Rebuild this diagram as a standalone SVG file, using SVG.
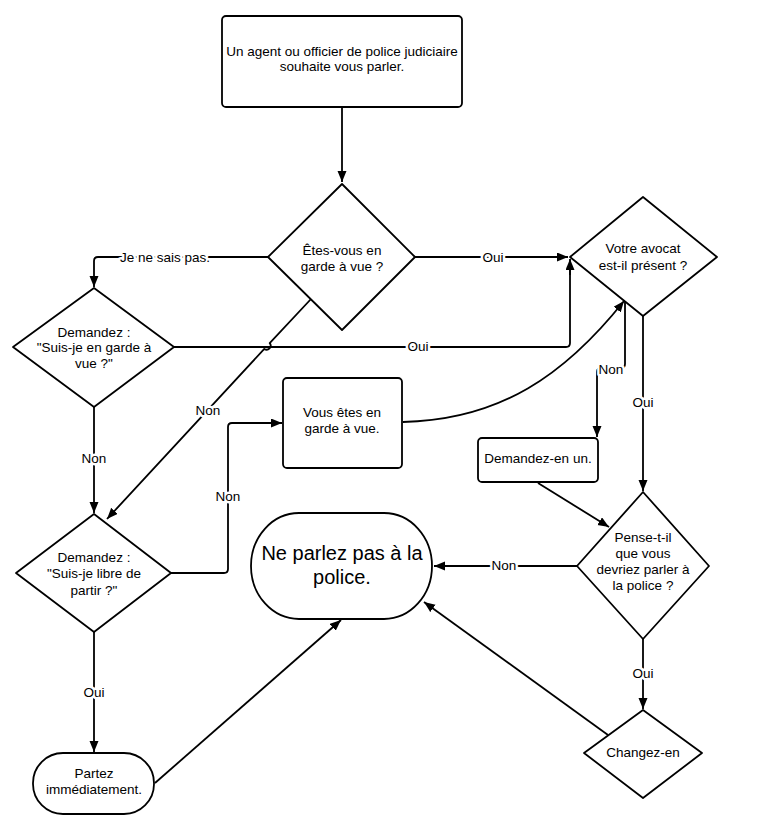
<svg xmlns="http://www.w3.org/2000/svg" width="757" height="829" viewBox="0 0 757 829">
<style>
.n{fill:#fff;stroke:#000;stroke-width:1.8;stroke-linejoin:round}
.t{font-family:"Liberation Sans",Arial,sans-serif;font-size:13.5px;fill:#000;text-anchor:middle}
.big{font-size:20px}
.c{fill:none;stroke:#000;stroke-width:1.8;stroke-linejoin:round}
.a{marker-end:url(#ah)}
.l{font-family:"Liberation Sans",Arial,sans-serif;font-size:13.5px;fill:#000;text-anchor:middle;stroke:#fff;stroke-width:5px;paint-order:stroke;stroke-linejoin:round}
</style>
<defs>
<marker id="ah" markerWidth="12" markerHeight="10" refX="11" refY="4.5" orient="auto" markerUnits="userSpaceOnUse">
<path d="M0,0 L11,4.5 L0,9 z" fill="#000"/>
</marker>
</defs>
<rect width="757" height="829" fill="#fff"/>
<g id="connectors">
<path class="c a" d="M342,107 L342,182"/>
<path class="c a" d="M268,257 L98,257 Q94,257 94,261 L94,287"/>
<path class="c a" d="M415,257 L568,257"/>
<path class="c" d="M174,347 L566,347 Q570,347 570,343 L570,270"/>
<path class="c a" d="M570,275 L570,259"/>
<path class="c a" d="M311,299 L269.7,343.1 A4,4 0 0 1 264.3,348.9 L107,519"/>
<path class="c a" d="M94,407 L94,513"/>
<path class="c a" d="M171,573 L224,573 Q228,573 228,569 L228,427 Q228,423 232,423 L282,423"/>
<path class="c a" d="M403,422 C500,420 565,375 624,301"/>
<path class="c a" d="M625,302 L625,364 Q625,368 621,368 L601,368 Q597,368 597,372 L597,437"/>
<path class="c a" d="M643,316 L643,491"/>
<path class="c a" d="M538,483 L609,527"/>
<path class="c a" d="M577,566 L434,566"/>
<path class="c a" d="M643,639 L643,709"/>
<path class="c a" d="M608,735 L424,602"/>
<path class="c a" d="M94,632 L94,752"/>
<path class="c a" d="M155,783 L341,620"/>
<text class="l" x="165" y="262">Je ne sais pas.</text>
<text class="l" x="493" y="262">Oui</text>
<text class="l" x="418" y="351">Oui</text>
<text class="l" x="611" y="374">Non</text>
<text class="l" x="643" y="407">Oui</text>
<text class="l" x="94" y="463">Non</text>
<text class="l" x="208" y="415">Non</text>
<text class="l" x="228" y="501">Non</text>
<text class="l" x="504" y="570">Non</text>
<text class="l" x="643" y="678">Oui</text>
<text class="l" x="94" y="697">Oui</text>
</g>
<g id="start">
<rect class="n" x="222" y="16" width="240" height="91" rx="4"/>
<text class="t" x="342" y="56">Un agent ou officier de police judiciaire</text>
<text class="t" x="342" y="71">souhaite vous parler.</text>
</g>
<g id="q-garde">
<path class="n" d="M342,184 L415,257 L342,330 L268,257 Z"/>
<text class="t" x="342" y="255">Êtes-vous en</text>
<text class="t" x="342" y="271">garde à vue ?</text>
</g>
<g id="q-demandez-garde">
<path class="n" d="M94,288 L174,347 L94,407 L13,347 Z"/>
<text class="t" x="94" y="337">Demandez :</text>
<text class="t" x="94" y="352">"Suis-je en garde à</text>
<text class="t" x="94" y="368">vue ?"</text>
</g>
<g id="q-avocat">
<path class="n" d="M643,197 L717,257 L643,316 L570,257 Z"/>
<text class="t" x="643" y="253">Votre avocat</text>
<text class="t" x="643" y="270">est-il présent ?</text>
</g>
<g id="garde-a-vue">
<rect class="n" x="283" y="378" width="119" height="90" rx="4"/>
<text class="t" x="342" y="417">Vous êtes en</text>
<text class="t" x="342" y="433">garde à vue.</text>
</g>
<g id="demandez-en-un">
<rect class="n" x="478" y="438" width="120" height="44" rx="4"/>
<text class="t" x="538" y="463">Demandez-en un.</text>
</g>
<g id="q-pense">
<path class="n" d="M643,492 L709,566 L643,639 L577,566 Z"/>
<text class="t" x="643" y="542">Pense-t-il</text>
<text class="t" x="643" y="558">que vous</text>
<text class="t" x="643" y="574">devriez parler à</text>
<text class="t" x="643" y="590">la police ?</text>
</g>
<g id="changez">
<path class="n" d="M643,710 L702,753 L643,798 L584,753 Z"/>
<text class="t" x="643" y="757">Changez-en</text>
</g>
<g id="ne-parlez-pas">
<rect class="n" x="251" y="513" width="181" height="106" rx="48" ry="53"/>
<text class="t big" x="342" y="560">Ne parlez pas à la</text>
<text class="t big" x="342" y="584">police.</text>
</g>
<g id="q-libre">
<path class="n" d="M94,514 L171,573 L94,632 L16,573 Z"/>
<text class="t" x="94" y="562">Demandez :</text>
<text class="t" x="94" y="578">"Suis-je libre de</text>
<text class="t" x="94" y="595">partir ?"</text>
</g>
<g id="partez">
<rect class="n" x="33" y="753" width="121" height="61" rx="30"/>
<text class="t" x="94" y="778">Partez</text>
<text class="t" x="94" y="794">immédiatement.</text>
</g>
</svg>
